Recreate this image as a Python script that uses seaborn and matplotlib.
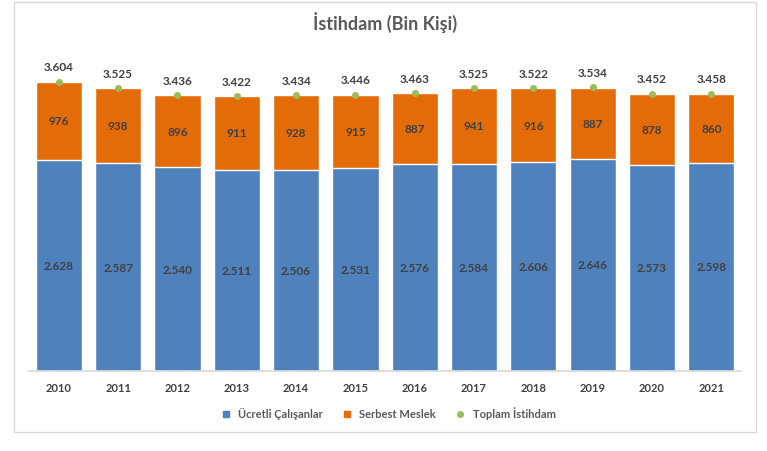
import matplotlib
matplotlib.use("Agg")
import matplotlib.pyplot as plt
import numpy as np
import pandas as pd
import seaborn as sns
from matplotlib.lines import Line2D
from matplotlib.patches import Rectangle

years = ["2010", "2011", "2012", "2013", "2014", "2015", "2016", "2017", "2018", "2019", "2020", "2021"]
ucretli = [2628, 2587, 2540, 2511, 2506, 2531, 2576, 2584, 2606, 2646, 2573, 2598]
serbest = [976, 938, 896, 911, 928, 915, 887, 941, 916, 887, 878, 860]
toplam = [3604, 3525, 3436, 3422, 3434, 3446, 3463, 3525, 3522, 3534, 3452, 3458]

blue = "#4F81BD"
orange = "#E36C09"
green = "#9BBB59"
txt = "#404040"

sns.set_theme(style="white")
plt.rcParams["font.family"] = ["Lato", "DejaVu Sans"]

df = pd.DataFrame({"yil": years, "ucretli": ucretli, "serbest": serbest, "toplam": toplam})
df["yigin"] = df["ucretli"] + df["serbest"]

fig = plt.figure(figsize=(7.67, 4.52), dpi=100)
ax = fig.add_axes([0.038, 0.177, 0.928, 0.71])

# stacked bars: total in orange, blue drawn over it
sns.barplot(data=df, x="yil", y="yigin", color=orange, width=0.78, saturation=1, ax=ax)
sns.barplot(data=df, x="yil", y="ucretli", color=blue, width=0.78, saturation=1, ax=ax)
pos = np.arange(len(years))
ax.scatter(pos, df["toplam"], s=16, color=green, zorder=5)

def fmt(v):
    return f"{v:,}".replace(",", ".")

for i in range(len(years)):
    ax.text(i, ucretli[i] / 2, fmt(ucretli[i]), ha="center", va="center",
            fontsize=8.5, fontweight="bold", color=txt)
    ax.text(i, ucretli[i] + serbest[i] / 2, fmt(serbest[i]), ha="center", va="center",
            fontsize=8.5, fontweight="bold", color=txt)
    ax.text(i, toplam[i] + 120, fmt(toplam[i]), ha="center", va="bottom",
            fontsize=8.5, fontweight="bold", color=txt)

ax.set_ylim(0, 4000)
ax.set_xlim(-0.5, len(years) - 0.5)
ax.set_yticks([])
ax.set_xlabel("")
ax.set_ylabel("")
for s in ["top", "left", "right"]:
    ax.spines[s].set_visible(False)
ax.spines["bottom"].set_color("#d9d9d9")
ax.tick_params(axis="x", length=0, pad=8, labelsize=8, labelcolor=txt)
for t in ax.get_xticklabels():
    t.set_fontweight("bold")

fig.text(0.502, 0.951, "İstihdam (Bin Kişi)", ha="center", va="center",
         fontsize=13, fontweight="bold", color="#595959")

handles = [
    Line2D([], [], marker="s", linestyle="", color=blue, markersize=5),
    Line2D([], [], marker="s", linestyle="", color=orange, markersize=5),
    Line2D([], [], marker="o", linestyle="", color=green, markersize=4),
]
leg = fig.legend(handles, ["Ücretli Çalışanlar", "Serbest Meslek", "Toplam İstihdam"],
                 loc="center", bbox_to_anchor=(0.502, 0.084), ncol=3, frameon=False,
                 fontsize=8, handletextpad=0.1, columnspacing=1.2, labelcolor="#595959")
for t in leg.get_texts():
    t.set_fontweight("bold")

fig.patches.append(Rectangle((14 / 767, 1 - 433 / 452), 742 / 767, 430 / 452,
                             transform=fig.transFigure, fill=False,
                             edgecolor="#d9d9d9", linewidth=1))

fig.savefig("out.png", dpi=100)
